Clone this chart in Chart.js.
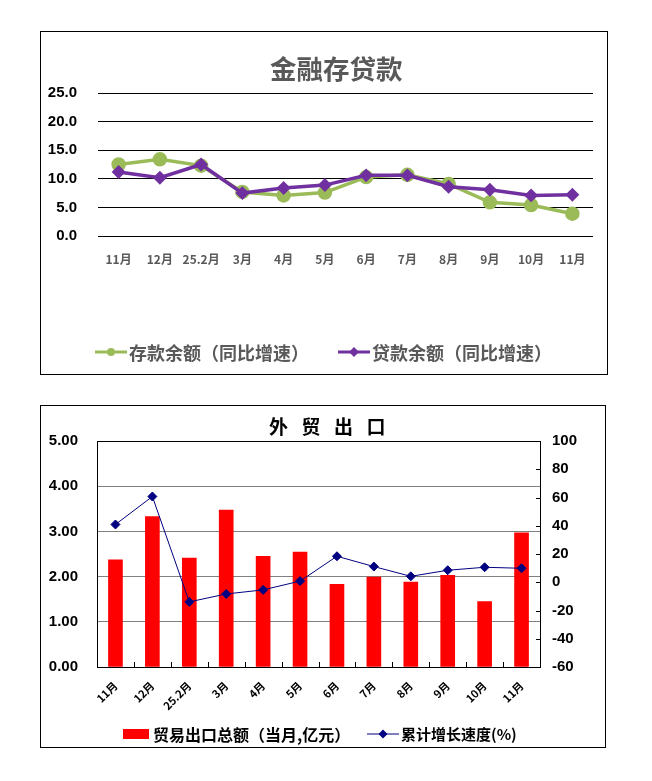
<!DOCTYPE html>
<html>
<head>
<meta charset="utf-8">
<script src="https://cdn.jsdelivr.net/npm/chart.js@4.4.1/dist/chart.umd.min.js"></script>
<style>
	body { margin: 0; background: #fff; width: 652px; height: 781px; position: relative; font-family: "Noto Sans CJK SC", sans-serif; }
	.box { position: absolute; border: 1px solid #000; box-sizing: border-box; }
	.cv { position: absolute; left: 0; top: 0; }
	.ttl { position: absolute; font-weight: bold; white-space: nowrap; }
	.leg { position: absolute; font-weight: bold; white-space: nowrap; display: flex; align-items: center; }
	.leg svg { margin-right: 2px; }
</style>
</head>
<body>

<div class="box" id="box1" style="left:40px;top:31px;width:568px;height:344px;">
	<div class="cv" style="width:566px;height:342px;"><canvas id="chart1"></canvas></div>
	<div class="ttl" style="left:229px;top:16px;font-size:26.5px;color:#595959;">金融存贷款</div>
	<div class="leg" style="left:54px;top:307px;font-size:18px;color:#595959;">
		<svg width="32" height="12"><line x1="0" y1="6" x2="32" y2="6" stroke="#9BBB59" stroke-width="3"/><circle cx="16" cy="6" r="4" fill="#9BBB59"/></svg>存款余额（同比增速）
	</div>
	<div class="leg" style="left:297px;top:307px;font-size:18px;color:#595959;">
		<svg width="32" height="12"><line x1="0" y1="6" x2="32" y2="6" stroke="#7030A0" stroke-width="3"/><polygon points="16,1 21,6 16,11 11,6" fill="#7030A0"/></svg>贷款余额（同比增速）
	</div>
</div>

<div class="box" id="box2" style="left:40px;top:405px;width:566px;height:343px;">
	<div class="cv" style="width:564px;height:341px;"><canvas id="chart2"></canvas></div>
	<div class="ttl" style="left:228px;top:6px;font-size:19px;color:#000;letter-spacing:13.5px;">外贸出口</div>
	<div class="leg" style="left:82px;top:316px;font-size:16px;color:#000;">
		<svg width="28" height="12"><rect x="0" y="1" width="26" height="10" fill="#FF0000"/></svg>贸易出口总额（当月,亿元）
	</div>
	<div class="leg" style="left:326px;top:317px;font-size:15px;color:#000;">
		<svg width="32" height="12"><line x1="0" y1="6" x2="32" y2="6" stroke="#000080" stroke-width="1"/><polygon points="16,1.5 20.5,6 16,10.5 11.5,6" fill="#000080"/></svg>累计增长速度(%)
	</div>
</div>

<script>
// 金融存贷款
var months = ['11月', '12月', '25.2月', '3月', '4月', '5月', '6月', '7月', '8月', '9月', '10月', '11月'];
var deposit = [12.5, 13.4, 12.3, 7.7, 7.1, 7.6, 10.3, 10.7, 9.1, 5.9, 5.4, 3.9];
var loan = [11.2, 10.2, 12.5, 7.5, 8.4, 8.9, 10.6, 10.6, 8.6, 8.1, 7.1, 7.2];
var rateTicks = [0, 25, 5];

// 外贸出口
var exportAmt = [2.37, 3.33, 2.41, 3.47, 2.45, 2.54, 1.83, 1.99, 1.88, 2.03, 1.45, 2.97];
var exportGrowth = [40.9, 60.7, -13.9, -8.3, -5.4, 0.8, 18.4, 11.1, 4.2, 8.5, 10.6, 9.9];
var amtTicks = [0, 5, 1];
var growthTicks = [-60, 100, 20];

var cjk = '"Noto Sans CJK SC", sans-serif';
var num = '"Liberation Sans", Arial, sans-serif';

new Chart(document.getElementById('chart1'), {
	type: 'line',
	data: {
		labels: months,
		datasets: [{
			label: '贷款余额（同比增速）',
			data: loan,
			borderColor: '#7030A0',
			backgroundColor: '#7030A0',
			borderWidth: 3.5,
			pointStyle: 'rectRot',
			pointRadius: 4.5,
			order: 1
		}, {
			label: '存款余额（同比增速）',
			data: deposit,
			borderColor: '#9BBB59',
			backgroundColor: '#9BBB59',
			borderWidth: 3.5,
			pointStyle: 'circle',
			pointRadius: 5.5,
			order: 2
		}]
	},
	options: {
		responsive: true,
		maintainAspectRatio: false,
		animation: false,
		layout: { padding: { left: 0, right: 14, top: 61, bottom: 0 } },
		plugins: { legend: { display: false }, tooltip: { enabled: false } },
		scales: {
			x: {
				offset: true,
				grid: { display: false },
				border: { display: false },
				ticks: { color: '#595959', font: { family: cjk, size: 12, weight: 'bold' }, padding: 8, maxRotation: 0, autoSkip: false },
				afterFit: function (s) { s.height = 138; }
			},
			y: {
				min: rateTicks[0],
				max: rateTicks[1],
				ticks: {
					stepSize: rateTicks[2],
					color: '#000',
					padding: 21,
					font: { family: num, size: 15, weight: 'bold' },
					callback: function (v) { return v.toFixed(1); }
				},
				grid: { color: '#000', lineWidth: 1, drawTicks: false },
				border: { display: false },
				afterFit: function (s) { s.width = 57; }
			}
		}
	}
});

// small inward tick marks: between categories on x, at each value on the right axis
var innerTicks = {
	id: 'innerTicks',
	afterDraw: function (chart) {
		var x = chart.scales.x, y1 = chart.scales.y1, ctx = chart.ctx, a = chart.chartArea;
		var step = (a.right - a.left) / x.ticks.length;
		ctx.save();
		ctx.strokeStyle = '#000';
		ctx.lineWidth = 1;
		ctx.beginPath();
		for (var i = 1; i < x.ticks.length; i++) {
			var px = Math.round(x.getPixelForValue(i) - step / 2) + 0.5;
			ctx.moveTo(px, a.bottom);
			ctx.lineTo(px, a.bottom - 5);
		}
		y1.ticks.forEach(function (t) {
			var py = Math.round(y1.getPixelForValue(t.value)) + 0.5;
			ctx.moveTo(a.right, py);
			ctx.lineTo(a.right - 4, py);
		});
		ctx.stroke();
		ctx.restore();
	}
};

new Chart(document.getElementById('chart2'), {
	type: 'bar',
	data: {
		labels: months,
		datasets: [{
			type: 'line',
			label: '累计增长速度(%)',
			data: exportGrowth,
			yAxisID: 'y1',
			borderColor: '#000080',
			backgroundColor: '#000080',
			borderWidth: 1,
			pointStyle: 'rectRot',
			pointRadius: 4.5,
			order: 1
		}, {
			label: '贸易出口总额（当月,亿元）',
			data: exportAmt,
			yAxisID: 'y',
			backgroundColor: '#FF0000',
			barThickness: 14,
			order: 2
		}]
	},
	options: {
		responsive: true,
		maintainAspectRatio: false,
		animation: false,
		layout: { padding: { left: 0, right: 0, top: 35, bottom: 0 } },
		plugins: { legend: { display: false }, tooltip: { enabled: false } },
		scales: {
			x: {
				grid: { display: false },
				border: { display: true, color: '#000', width: 1 },
				ticks: { color: '#000', font: { family: cjk, size: 11, weight: 'bold' }, minRotation: 45, maxRotation: 45, padding: 4, autoSkip: false },
				afterFit: function (s) { s.height = 80; }
			},
			y: {
				position: 'left',
				min: amtTicks[0],
				max: amtTicks[1],
				ticks: {
					stepSize: amtTicks[2],
					color: '#000',
					padding: 19,
					font: { family: num, size: 15, weight: 'bold' },
					callback: function (v) { return v.toFixed(2); }
				},
				grid: {
					drawTicks: false,
					color: function (c) { return c.tick.value === amtTicks[1] ? '#000' : '#808080'; }
				},
				border: { display: true, color: '#000', width: 1 },
				afterFit: function (s) { s.width = 56; }
			},
			y1: {
				position: 'right',
				min: growthTicks[0],
				max: growthTicks[1],
				ticks: {
					stepSize: growthTicks[2],
					color: '#000',
					padding: 12,
					font: { family: num, size: 15, weight: 'bold' }
				},
				grid: { drawOnChartArea: false, drawTicks: false },
				border: { display: true, color: '#000', width: 1 },
				afterFit: function (s) { s.width = 65; }
			}
		}
	},
	plugins: [innerTicks]
});
</script>
</body>
</html>
